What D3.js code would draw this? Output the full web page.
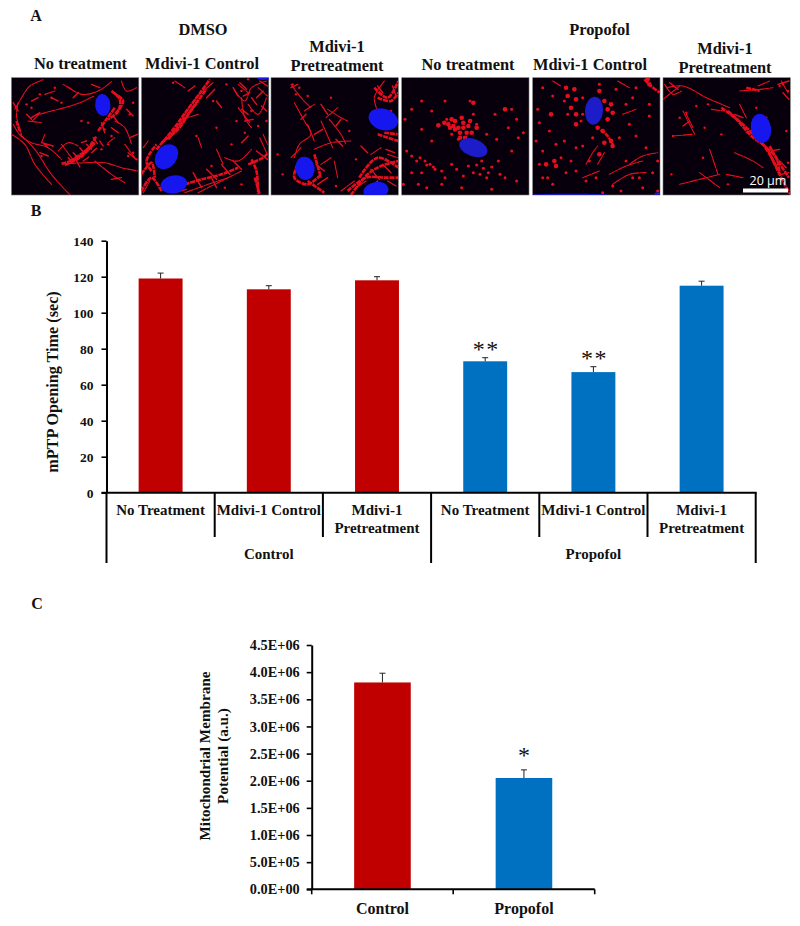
<!DOCTYPE html>
<html><head><meta charset="utf-8">
<script src="https://cdn.jsdelivr.net/npm/d3@7"></script>
<style>
html,body{margin:0;padding:0;background:#fff}
svg{display:block}
text{font-family:"Liberation Serif",serif;font-weight:700;fill:#111}
</style></head><body><div id="c"></div>
<script>
// Panel B data
const catsB = ["No Treatment","Mdivi-1 Control","Mdivi-1 Pretreatment","No Treatment","Mdivi-1 Control","Mdivi-1 Pretreatment"];
const valsB = [119,113,118,73,67,115];
const errsB = [3,2,2,2,3,2.5];
const groupsB = ["Control","Propofol"];
const sigB = ["","","","**","**",""];
const ticksB = [0,20,40,60,80,100,120,140];
// Panel C data
const catsC = ["Control","Propofol"];
const valsC = [3.81e6,2.05e6];
const errsC = [0.17e6,0.15e6];
const sigC = ["","*"];
const ticksC = [0,5e5,1e6,1.5e6,2e6,2.5e6,3e6,3.5e6,4e6,4.5e6];
const tickLabelsC = ["0.0E+00","5.0E+05","1.0E+06","1.5E+06","2.0E+06","2.5E+06","3.0E+06","3.5E+06","4.0E+06","4.5E+06"];
// Panel A headings
const headsA = ["No treatment","Mdivi-1 Control",["Mdivi-1","Pretreatment"],"No treatment","Mdivi-1 Control",["Mdivi-1","Pretreatment"]];
const headXA = [80.5,202,337,468,590,725];
const groupsA = ["DMSO","Propofol"];
// Micrograph traces on a 382x352 grid
const thin1=[[[10,95],[30,60],[55,25],[95,6]],[[76,112],[120,100],[166,88],[205,75],[248,55]],[[62,130],[80,112]],[[26,170],[70,215],[116,285],[150,325],[176,352]],[[5,140],[28,175],[60,195],[110,210],[150,245]],[[165,258],[220,255],[280,255],[330,270],[378,280]],[[170,28],[210,50],[260,40],[300,12]],[[20,75],[15,115],[30,170]],[[140,220],[170,195],[200,205]],[[330,10],[345,40],[375,30]],[[250,250],[300,290],[340,315]],[[310,130],[340,150],[360,200]],[[340,200],[370,240]],[[90,195],[100,170]],[[290,195],[310,180]],[[155,20],[180,35]],[[50,130],[90,135]],[[100,50],[130,40]],[[180,240],[150,200]],[[0,170],[40,200],[70,260],[120,320]]];
const thick1=[[[150,258],[190,245],[225,218],[255,175]],[[160,262],[205,240],[250,195]],[[260,160],[285,125],[310,90]],[[300,40],[325,65],[320,100],[290,125]],[[15,130],[25,160]],[[175,250],[215,225],[245,200]],[[305,45],[335,70],[310,110]]];
const frag1=[[[185,225],[200,240]],[[205,210],[220,228]],[[225,200],[240,215]],[[245,180],[258,198]],[[170,240],[185,258]],[[195,250],[205,268]],[[215,250],[232,238]],[[240,225],[255,212]],[[265,190],[275,205]],[[210,195],[225,190]],[[270,135],[280,165]],[[305,115],[320,135]],[[60,70],[80,60]],[[120,60],[140,70]],[[185,60],[200,45]],[[240,20],[265,30]],[[85,225],[110,235]],[[90,195],[125,205]],[[300,150],[320,165]],[[345,95],[365,115]],[[355,180],[378,170]],[[350,225],[375,245]],[[5,75],[20,100]],[[45,110],[60,125]],[[300,305],[330,300]],[[60,120],[85,105]]];
const dots1=[[100,200],[105,205],[350,235],[365,225],[85,50],[130,30],[355,110],[290,200],[300,175],[45,80],[210,130],[365,75],[60,90],[120,60],[90,235],[375,245],[230,135],[270,215],[150,75],[280,155]];
const nuc1=[[274,82,23,33,-5]];
const thin2=[[[85,180],[125,120],[165,60],[215,15]],[[280,40],[310,70],[330,30],[375,10]],[[300,60],[310,120],[330,150]],[[320,80],[350,110],[375,60]],[[290,20],[320,45]],[[350,30],[378,55]],[[225,215],[245,260]],[[130,345],[200,320],[260,300]],[[5,345],[25,310]],[[250,240],[290,250],[330,215]],[[355,180],[375,225]],[[120,125],[170,110]],[[365,170],[378,200]],[[100,10],[130,30]],[[170,345],[240,310],[300,280]],[[290,90],[325,135]],[[170,180],[180,210]],[[5,210],[20,190]]];
const thick2=[[[45,215],[95,155],[135,100],[180,40],[205,5]],[[60,195],[110,155],[150,95],[195,35]],[[30,280],[15,250],[45,200]],[[130,320],[180,305],[240,290],[290,270]],[[0,290],[30,255],[40,300]],[[330,245],[345,280],[350,350]],[[320,260],[365,240],[380,225]],[[340,300],[355,350]],[[80,185],[125,130],[170,70]],[[0,340],[30,300],[60,340]]];
const frag2=[[[295,15],[315,35]],[[305,55],[325,45]],[[330,60],[345,80]],[[300,95],[320,110]],[[310,130],[335,125]],[[345,60],[365,40]],[[360,85],[375,100]],[[355,10],[378,25]],[[275,30],[290,55]],[[140,40],[160,25]],[[195,60],[220,35]],[[155,285],[180,330]],[[195,275],[225,305]],[[240,260],[265,290]],[[275,250],[300,275]],[[100,345],[135,335]],[[345,220],[378,245]],[[225,70],[240,90]],[[300,195],[320,175]],[[210,300],[225,330]]];
const dots2=[[225,150],[215,70],[300,40],[350,145],[250,330],[210,265],[270,200],[165,175],[320,5],[255,20],[375,130],[95,15],[300,320],[310,165],[330,100],[285,130]];
const nuc2=[[75,237,31,41,38],[97,320,40,27,-10],[365,2,18,5,0]];
const thin3=[[[60,20],[90,60],[120,90]],[[70,75],[100,130],[120,170],[85,200],[70,240]],[[110,140],[130,190]],[[170,95],[210,120],[230,130]],[[150,130],[170,175],[185,210]],[[175,125],[210,170],[225,200]],[[130,215],[180,195],[240,190]],[[60,240],[90,210]],[[165,120],[200,90]],[[340,10],[310,60],[320,100]],[[250,310],[210,340]],[[300,230],[330,210]],[[350,230],[380,240]],[[190,250],[200,300]],[[100,100],[130,80]],[[180,240],[150,260]]];
const thick3=[[[240,352],[290,290],[330,265],[382,250]],[[230,340],[285,300],[345,300],[382,300]],[[320,170],[382,190]],[[310,30],[350,60],[382,10]],[[80,260],[70,300],[110,320],[150,290]],[[110,310],[160,345]],[[130,230],[150,300]],[[265,300],[320,240],[382,270]],[[320,60],[360,70],[382,45]],[[340,165],[380,170]]];
const frag3=[[[135,260],[160,280]],[[140,320],[170,300]],[[300,275],[325,305]],[[335,260],[360,285]],[[345,215],[370,225]],[[320,25],[335,45]],[[365,25],[375,55]],[[90,125],[105,110]],[[150,80],[170,110]],[[195,145],[210,125]],[[130,170],[155,155]],[[195,185],[215,205]],[[60,30],[80,20]],[[255,330],[285,310]],[[300,330],[320,310]],[[350,310],[375,325]],[[270,205],[290,225]]];
const dots3=[[65,20],[85,30],[75,50],[110,55],[235,160],[180,60],[360,100],[255,245],[195,325],[20,230],[35,290]];
const nuc3=[[337,125,45,32,18],[102,272,29,35,-10],[315,339,38,26,-10]];
const dots4big=[[110,143],[128,135],[140,140],[155,145],[170,150],[185,150],[200,145],[215,75],[160,155],[175,165],[195,165],[145,150],[205,130],[180,120],[160,130],[310,95],[210,165],[190,180],[175,180],[225,150],[185,135],[150,125]];
const dots4=[[135,125],[215,110],[225,140],[205,70],[170,185],[150,170],[90,190],[60,70],[10,125],[15,220],[30,235],[55,240],[70,250],[85,260],[100,275],[120,280],[240,250],[260,285],[200,265],[215,285],[235,290],[255,300],[150,260],[165,275],[50,320],[75,330],[180,330],[120,320],[290,250],[330,220],[350,180],[365,165],[345,125],[330,95],[280,110],[30,95],[60,155],[90,100],[310,300],[345,310],[270,335],[5,320],[30,285],[130,70],[255,170],[285,185],[320,150],[75,262],[95,268],[225,262],[245,272],[270,268],[185,295],[45,250],[130,300],[60,285],[295,290]];
const dots5big=[[105,55],[125,35],[130,65],[115,90],[130,110],[225,95],[240,105],[225,125],[195,150],[210,160],[235,190],[240,205],[65,250],[40,260],[70,265],[350,20],[345,5],[215,195],[130,140],[235,80],[215,70],[200,40],[100,30],[55,110],[200,230]];
const dots5=[[150,60],[95,70],[105,110],[150,110],[145,130],[60,55],[30,30],[15,95],[50,160],[10,190],[30,220],[85,240],[100,285],[130,280],[160,310],[30,300],[60,320],[210,345],[240,325],[265,340],[200,20],[250,35],[300,60],[350,115],[310,175],[340,210],[375,250],[360,285],[300,300],[280,250],[260,180],[290,140],[95,190],[150,205],[170,250],[130,210],[330,330],[180,180],[20,135],[375,340],[70,200],[20,260],[115,250],[45,300],[190,300],[320,300],[350,80],[280,80],[310,30]];
const thin5=[[[160,260],[180,225],[195,205]],[[195,260],[215,225]],[[290,260],[330,235],[375,225]],[[230,290],[280,265],[330,250]],[[150,300],[200,280]],[[255,10],[290,30]],[[60,10],[85,25]],[[270,110],[310,95]],[[240,320],[290,290],[340,285]]];
const thick5=[[[335,5],[355,25],[382,45]],[[205,155],[225,175],[240,200]]];
const frag5=[];
const nuc5=[[184,99,27,42,5],[112,351,113,3,0],[375,349,10,5,0]];
const thin6=[[[10,30],[60,25],[130,60],[200,90]],[[0,65],[50,25]],[[230,40],[290,35],[330,30]],[[285,25],[320,10]],[[145,95],[185,100]],[[70,110],[90,150]],[[30,175],[90,170]],[[140,215],[165,290]],[[50,320],[130,300],[170,290]],[[215,225],[270,250],[300,270]],[[110,285],[170,330]],[[60,100],[95,170]],[[355,10],[375,45]],[[190,290],[240,300]],[[5,20],[30,50],[55,40]],[[230,80],[250,120]]];
const thick6=[[[175,90],[220,125],[265,175],[310,210],[335,260],[365,320],[382,350]],[[195,100],[250,150],[300,200],[345,275]],[[310,210],[340,240],[350,290]],[[320,205],[345,250],[378,300]],[[250,30],[290,40]]];
const frag6=[[[215,110],[240,120]],[[250,165],[275,155]],[[325,220],[350,215]],[[350,250],[370,270]],[[355,290],[378,285]],[[345,20],[378,10]],[[360,45],[378,65]],[[20,15],[45,35]],[[60,145],[80,130]]];
const dots6=[[135,80],[70,105],[50,120],[175,170],[30,175],[125,150],[370,160],[280,90],[120,240],[25,290],[360,20],[375,40],[350,25],[100,85],[310,120],[375,255],[195,320]];
const nuc6=[[294,152,30,44,-10]];
const panels=[
 {x0:11.5,thin:thin1,thick:thick1,frag:frag1,dots:dots1,big:[],nuc:nuc1,dim:false},
 {x0:141.5,thin:thin2,thick:thick2,frag:frag2,dots:dots2,big:[],nuc:nuc2,dim:false},
 {x0:271,thin:thin3,thick:thick3,frag:frag3,dots:dots3,big:[],nuc:nuc3,dim:false},
 {x0:401.7,thin:[],thick:[],frag:[],dots:dots4,big:dots4big,nuc:[[215,210,44,26,20]],dim:true},
 {x0:532.7,thin:thin5,thick:thick5,frag:frag5,dots:dots5,big:dots5big,nuc:nuc5,dim:true},
 {x0:663,thin:thin6,thick:thick6,frag:frag6,dots:dots6,big:[],nuc:nuc6,dim:false}];

const svg=d3.select("#c").append("svg").attr("width",800).attr("height",926);
const defs=svg.append("defs");
defs.append("filter").attr("id","soft").append("feGaussianBlur").attr("stdDeviation",0.5);

// ---- Panel letters
[["A",36,21],["B",36,216],["C",37,609]].forEach(d=>svg.append("text").attr("x",d[1]).attr("y",d[2]).attr("text-anchor","middle").attr("font-size",16).text(d[0]));

// ---- Panel A
const pw=127.3,ph=117.3,py=77.7;
const gridX=d3.scaleLinear().domain([0,382]).range([0,pw]);
const gridY=d3.scaleLinear().domain([0,352]).range([0,ph]);
const filLine=d3.line().x(d=>gridX(d[0])).y(d=>gridY(d[1])).curve(d3.curveCatmullRom);
const red="#e60f1e";
panels.forEach((p,i)=>{
  const g=svg.append("g").attr("transform",`translate(${p.x0},${py})`);
  defs.append("clipPath").attr("id","pc"+i).append("rect").attr("width",pw).attr("height",ph);
  g.append("rect").attr("width",pw).attr("height",ph).attr("fill","#07000c").attr("stroke","#777").attr("stroke-width",0.6);
  const m=g.append("g").attr("clip-path",`url(#pc${i})`).append("g").attr("filter","url(#soft)");
  m.selectAll("path.thin").data(p.thin).join("path").attr("class","thin").attr("d",filLine).attr("fill","none").attr("stroke",red).attr("stroke-width",1.1).attr("stroke-dasharray","9 1.2").attr("stroke-linecap","round");
  m.selectAll("path.thick").data(p.thick).join("path").attr("class","thick").attr("d",filLine).attr("fill","none").attr("stroke",red).attr("stroke-width",2.6).attr("stroke-dasharray","5 0.8");
  m.selectAll("path.frag").data(p.frag).join("path").attr("class","frag").attr("d",filLine).attr("fill","none").attr("stroke",red).attr("stroke-width",1.4).attr("stroke-linecap","round");
  m.selectAll("circle.s").data(p.dots).join("circle").attr("class","s").attr("cx",d=>gridX(d[0])).attr("cy",d=>gridY(d[1])).attr("r",p.dim?1.5:1.2).attr("fill",red);
  m.selectAll("circle.b").data(p.big).join("circle").attr("class","b").attr("cx",d=>gridX(d[0])).attr("cy",d=>gridY(d[1])).attr("r",2.3).attr("fill",red);
  m.selectAll("ellipse").data(p.nuc).join("ellipse")
    .attr("transform",d=>`translate(${gridX(d[0])},${gridY(d[1])}) rotate(${d[4]})`)
    .attr("rx",d=>gridX(d[2])).attr("ry",d=>gridY(d[3])).attr("fill",p.dim?"#1c1cc8":"#1616ee");
  const h=headsA[i];
  if(Array.isArray(h)){
    svg.append("text").attr("x",headXA[i]).attr("y",i<3?52:54).attr("text-anchor","middle").attr("font-size",16.4).text(h[0]);
    svg.append("text").attr("x",headXA[i]).attr("y",i<3?71:73).attr("text-anchor","middle").attr("font-size",16.4).text(h[1]);
  } else {
    svg.append("text").attr("x",headXA[i]).attr("y",i<3?69:70).attr("text-anchor","middle").attr("font-size",16.4).text(h);
  }
});
svg.append("text").attr("x",203).attr("y",35).attr("text-anchor","middle").attr("font-size",16.4).text(groupsA[0]);
svg.append("text").attr("x",599.5).attr("y",35).attr("text-anchor","middle").attr("font-size",16.4).text(groupsA[1]);
// scale bar
svg.append("rect").attr("x",743).attr("y",188.5).attr("width",45).attr("height",4).attr("fill","#fff");
svg.append("text").attr("x",768).attr("y",185).attr("text-anchor","middle").attr("font-size",12.5)
  .style("font-family","'Open Sans',sans-serif").style("font-weight",400).style("fill","#fff").text("20 µm");

// ---- shared helpers
function styleAxis(g,fs){
  g.selectAll("path.domain").attr("stroke","#000").attr("stroke-width",2);
  g.selectAll(".tick line").attr("stroke","#000").attr("stroke-width",1.6);
  g.selectAll(".tick text").attr("font-size",fs).attr("font-family","Liberation Serif").attr("font-weight",700).attr("fill","#111");
}
const colors=["#c00000","#c00000","#c00000","#0070c0","#0070c0","#0070c0"];
const errColor="#222";
function errs(g,data,x,y,bw){
  const gg=g.append("g").selectAll("g").data(data).join("g");
  gg.append("line").attr("x1",d=>x(d.i)+bw/2).attr("x2",d=>x(d.i)+bw/2).attr("y1",d=>y(d.v)).attr("y2",d=>y(d.v+d.e)).attr("stroke",errColor).attr("stroke-width",1);
  gg.append("line").attr("x1",d=>x(d.i)+bw/2-3).attr("x2",d=>x(d.i)+bw/2+3).attr("y1",d=>y(d.v+d.e)).attr("y2",d=>y(d.v+d.e)).attr("stroke",errColor).attr("stroke-width",1);
}

// ---- Panel B
const bx=106.5,bR=755.7,bTop=240.7,bBot=492.7;
const yB=d3.scaleLinear().domain([0,140]).range([bBot,bTop]);
const xB=d3.scaleBand().domain(d3.range(6)).range([bx,bR]).paddingInner(0.594).paddingOuter(0.297);
const bandB=(bR-bx)/6;
const gB=svg.append("g");
const dataB=valsB.map((v,i)=>({i,v,e:errsB[i]}));
gB.selectAll("rect").data(dataB).join("rect").attr("x",d=>xB(d.i)).attr("width",xB.bandwidth()).attr("y",d=>yB(d.v)).attr("height",d=>bBot-yB(d.v)).attr("fill",d=>colors[d.i]);
errs(gB,dataB,xB,yB,xB.bandwidth());
const axB=gB.append("g").attr("transform",`translate(${bx},0)`).call(d3.axisLeft(yB).tickValues(ticksB).tickSize(5).tickSizeOuter(0).tickPadding(8));
styleAxis(axB,13.5);
gB.append("line").attr("x1",bx-5).attr("x2",bR+1).attr("y1",bBot).attr("y2",bBot).attr("stroke","#000").attr("stroke-width",2);
d3.range(0,7).forEach(i=>{
  const outer=i%3==0;
  gB.append("line").attr("x1",bx+i*bandB).attr("x2",bx+i*bandB).attr("y1",bBot).attr("y2",outer?563:537).attr("stroke","#000").attr("stroke-width",2);
});
catsB.forEach((c,i)=>{
  const cx=bx+(i+.5)*bandB;
  if(c.includes("Pretreatment")){
    const p=c.split(" ");
    gB.append("text").attr("x",cx).attr("y",515).attr("text-anchor","middle").attr("font-size",15).text(p[0]);
    gB.append("text").attr("x",cx).attr("y",533).attr("text-anchor","middle").attr("font-size",15).text(p[1]);
  } else gB.append("text").attr("x",cx).attr("y",515).attr("text-anchor","middle").attr("font-size",15).text(c);
  if(sigB[i]) gB.append("text").attr("x",cx+1).attr("y",yB(valsB[i]+errsB[i])-1).attr("text-anchor","middle").attr("font-size",24)
     .attr("letter-spacing",1.5).style("font-weight",400).text(sigB[i]);
});
groupsB.forEach((g,i)=>gB.append("text").attr("x",bx+(1.5+3*i)*bandB).attr("y",559).attr("text-anchor","middle").attr("font-size",15).text(g));
gB.append("text").attr("transform","translate(58,382) rotate(-90)").attr("text-anchor","middle").attr("font-size",16.2).text("mPTP Opening Time (sec)");

// ---- Panel C
const cx0=311.7,cR=594.7,cTop=645,cBot=889.3;
const yC=d3.scaleLinear().domain([0,4.5e6]).range([cBot,cTop]);
const xC=d3.scaleBand().domain(d3.range(2)).range([cx0,cR]).paddingInner(0.6).paddingOuter(0.3);
const gC=svg.append("g");
const dataC=valsC.map((v,i)=>({i,v,e:errsC[i]}));
gC.selectAll("rect").data(dataC).join("rect").attr("x",d=>xC(d.i)).attr("width",xC.bandwidth()).attr("y",d=>yC(d.v)).attr("height",d=>cBot-yC(d.v)).attr("fill",d=>d.i?"#0070c0":"#c00000");
errs(gC,dataC,xC,yC,xC.bandwidth());
const axC=gC.append("g").attr("transform",`translate(${cx0},0)`).call(d3.axisLeft(yC).tickValues(ticksC).tickFormat((d,i)=>tickLabelsC[i]).tickSize(5).tickSizeOuter(0).tickPadding(7));
styleAxis(axC,14.3);
gC.append("line").attr("x1",cx0-5).attr("x2",cR).attr("y1",cBot).attr("y2",cBot).attr("stroke","#000").attr("stroke-width",2);
d3.range(0,3).forEach(i=>{
  const x=cx0+i*(cR-cx0)/2;
  gC.append("line").attr("x1",x).attr("x2",x).attr("y1",cBot).attr("y2",cBot+5).attr("stroke","#000").attr("stroke-width",1.6);
});
catsC.forEach((c,i)=>{
  const x=xC(i)+xC.bandwidth()/2;
  gC.append("text").attr("x",x).attr("y",914).attr("text-anchor","middle").attr("font-size",16).text(c);
  if(sigC[i]) gC.append("text").attr("x",x).attr("y",yC(valsC[i]+errsC[i])-7).attr("text-anchor","middle").attr("font-size",24).style("font-weight",400).text(sigC[i]);
});
gC.append("text").attr("transform","translate(210,756) rotate(-90)").attr("text-anchor","middle").attr("font-size",15.2).text("Mitochondrial Membrane");
gC.append("text").attr("transform","translate(228,756) rotate(-90)").attr("text-anchor","middle").attr("font-size",15.2).text("Potential (a.u.)");
</script></body></html>
